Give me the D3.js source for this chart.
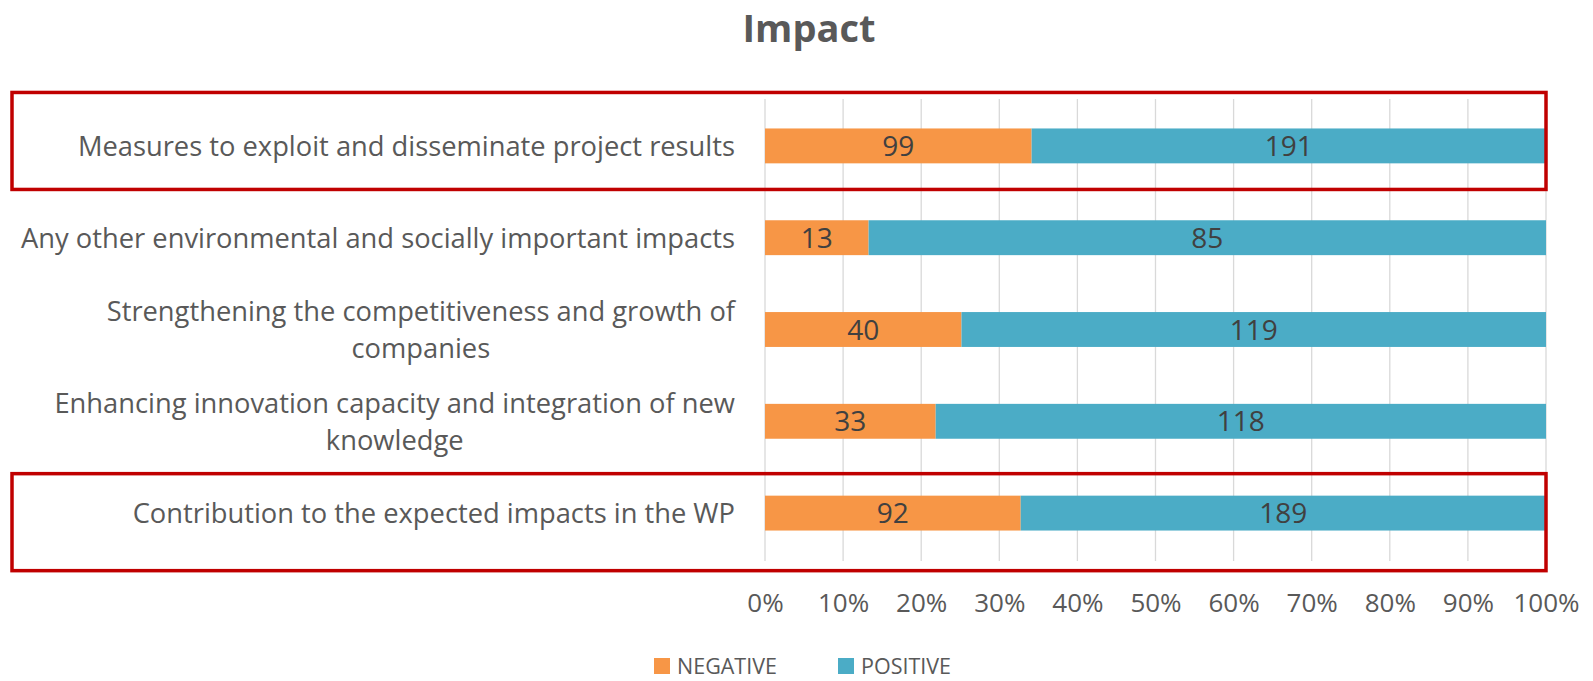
<!DOCTYPE html>
<html>
<head>
<meta charset="utf-8">
<script src="https://cdn.jsdelivr.net/npm/d3@7"></script>
<style>
  html, body { margin: 0; padding: 0; background: #ffffff; }
  svg { display: block; }
  text { font-family: "Open Sans", "Noto Sans", sans-serif; }
</style>
</head>
<body>
<svg id="chart" width="1593" height="681"></svg>
<script>
// ---- data ----
const title = "Impact";
const categories = [
  "Measures to exploit and disseminate project results",
  "Any other environmental and socially important impacts",
  "Strengthening the competitiveness and growth of\ncompanies",
  "Enhancing innovation capacity and integration of new\nknowledge",
  "Contribution to the expected impacts in the WP"
];
const negativeValues = [99, 13, 40, 33, 92];
const positiveValues = [191, 85, 119, 118, 189];
const seriesNames = ["NEGATIVE", "POSITIVE"];
const tickValues = [0, 0.1, 0.2, 0.3, 0.4, 0.5, 0.6, 0.7, 0.8, 0.9, 1.0];
const highlighted = [0, 4]; // category indices boxed in red

// ---- style ----
const colors = { NEGATIVE: "#F79646", POSITIVE: "#4BACC6" };
const textColor = "#595959";
const boxTopOffsets = [-36, -22]; // box top relative to bar top, per highlighted box

const svg = d3.select("#chart");

const x = d3.scaleLinear().domain([0, 1]).range([765, 1546]);
const y = d3.scaleBand().domain(categories).range([100, 559])
  .paddingInner(0.62).paddingOuter(0.31);

// title
svg.append("text")
  .attr("x", 809).attr("y", 42)
  .attr("text-anchor", "middle")
  .attr("font-size", 38).attr("font-weight", "bold")
  .attr("fill", textColor)
  .text(title);

// gridlines
svg.append("g").selectAll("line")
  .data(tickValues)
  .join("line")
  .attr("x1", d => x(d)).attr("x2", d => x(d))
  .attr("y1", 99).attr("y2", 561)
  .attr("stroke", "#d9d9d9").attr("stroke-width", 1.3);

// x axis labels
const xAxis = d3.axisBottom(x).tickValues(tickValues)
  .tickFormat(d3.format(".0%")).tickSize(0).tickPadding(0);
const gx = svg.append("g").attr("transform", "translate(0,603)").call(xAxis);
gx.select(".domain").remove();
gx.selectAll("text")
  .attr("font-size", 26).attr("fill", textColor)
  .attr("font-family", "'Open Sans', sans-serif")
  .attr("dy", "0.36em");

// stacked data
const rows = categories.map((c, i) => ({
  cat: c, NEGATIVE: negativeValues[i], POSITIVE: positiveValues[i]
}));
const stack = d3.stack().keys(seriesNames).offset(d3.stackOffsetExpand);
const series = stack(rows);

const gBars = svg.append("g");
series.forEach(s => {
  const g = gBars.append("g");
  g.selectAll("rect")
    .data(s)
    .join("rect")
    .attr("x", d => x(d[0]))
    .attr("width", d => x(d[1]) - x(d[0]))
    .attr("y", d => y(d.data.cat))
    .attr("height", y.bandwidth())
    .attr("fill", colors[s.key]);
  g.selectAll("text")
    .data(s)
    .join("text")
    .attr("x", d => (x(d[0]) + x(d[1])) / 2)
    .attr("y", d => y(d.data.cat) + y.bandwidth() / 2)
    .attr("text-anchor", "middle")
    .attr("dy", "0.36em")
    .attr("font-size", 28)
    .attr("fill", "#404040")
    .text(d => d.data[s.key]);
});

// category labels
const labelX = 735;
const lineH = 37;
const gLab = svg.append("g");
categories.forEach(c => {
  const lines = c.split("\n");
  const cy = y(c) + y.bandwidth() / 2;
  const t = gLab.append("text")
    .attr("font-size", 27.3)
    .attr("fill", textColor)
    .attr("text-anchor", "middle");
  const tspans = lines.map((ln, i) => t.append("tspan")
    .attr("y", cy + (i - (lines.length - 1) / 2) * lineH)
    .attr("dy", "0.36em")
    .text(ln));
  // right-align the block, center lines within it
  const w = d3.max(tspans, ts => ts.node().getComputedTextLength());
  tspans.forEach(ts => ts.attr("x", labelX - w / 2));
});

// red highlight boxes
svg.append("g").selectAll("rect")
  .data(highlighted)
  .join("rect")
  .attr("x", 12)
  .attr("y", (i, k) => y(categories[i]) + boxTopOffsets[k])
  .attr("width", 1534)
  .attr("height", 97)
  .attr("fill", "none")
  .attr("stroke", "#C00000")
  .attr("stroke-width", 3.5);

// legend
const legendX = [654, 838];
const leg = svg.append("g").selectAll("g")
  .data(seriesNames)
  .join("g")
  .attr("transform", (d, i) => `translate(${legendX[i]},658)`);
leg.append("rect").attr("width", 16).attr("height", 16)
  .attr("fill", d => colors[d]);
leg.append("text").attr("x", 23).attr("y", 8).attr("dy", "0.36em")
  .attr("font-size", 21.5).attr("fill", textColor)
  .text(d => d);
</script>
</body>
</html>
